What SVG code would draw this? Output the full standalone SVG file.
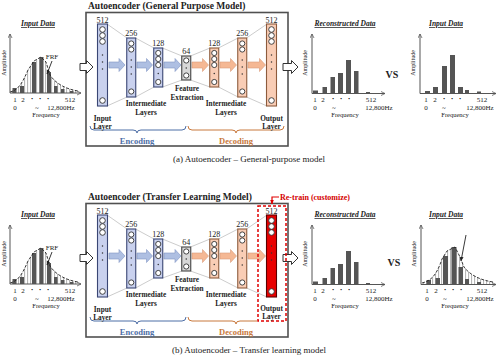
<svg xmlns="http://www.w3.org/2000/svg" width="500" height="363" viewBox="0 0 500 363">
<defs>
<style>
text{font-family:"Liberation Serif","Times New Roman",serif;fill:#222}
.title{font-size:9.5px;font-weight:bold}
.cap{font-size:9px;text-anchor:middle}
.num{font-size:8px;text-anchor:middle}
.lbl{font-size:7.3px;font-weight:bold;text-anchor:middle}
.ct{font-size:7.5px;font-weight:bold;font-style:italic;text-decoration:underline;text-anchor:middle}
.tick{font-size:7px;text-anchor:middle}
.td{font-size:8px;font-weight:bold;text-anchor:middle}
.freq{font-size:6.5px;text-anchor:middle}
.amp{font-size:6px;text-anchor:middle}
.enct{font-size:8.5px;font-weight:bold;fill:#4d6ea6;text-anchor:middle}
.dect{font-size:8.5px;font-weight:bold;fill:#c8783c;text-anchor:middle}
.vs{font-size:10px;font-weight:bold;text-anchor:middle}
.rt{font-size:8px;font-weight:bold;fill:#d40000}
.box{fill:#fff;stroke:#505050;stroke-width:1.6}
.enc{fill:#c9d1ee;stroke:#3a4674;stroke-width:1.1}
.dec{fill:#f9cdb5;stroke:#8d5b3c;stroke-width:1.1}
.fe{fill:#d8d8d8;stroke:#444;stroke-width:1.1}
.red{fill:#e80000;stroke:#5a0000;stroke-width:1.1}
.cir{fill:#fff;stroke:#333;stroke-width:0.9}
.dot{fill:#333}
.barr{fill:#aebfe2;stroke:#8196c4;stroke-width:0.6}
.darr{fill:#f5b894;stroke:#d99a78;stroke-width:0.6}
.big{fill:#fff;stroke:#333;stroke-width:1}
.axis{stroke:#555;stroke-width:1;fill:none}
.bar{fill:#555}
.funnel{stroke:#aaa;stroke-width:0.6;fill:none}
.frf{stroke:#222;stroke-width:0.9;fill:none;stroke-dasharray:3 1.5}
.ptr{stroke:#222;stroke-width:0.9;fill:none}
.bre{stroke:#4d6ea6;stroke-width:1;fill:none}
.brd{stroke:#c8783c;stroke-width:1;fill:none}
.rdash{fill:none;stroke:#e00000;stroke-width:1.5;stroke-dasharray:3 2}
.rline{fill:none;stroke:#e00000;stroke-width:1.2}
</style>
<marker id="ah" viewBox="0 0 10 10" refX="9" refY="5" markerWidth="5" markerHeight="5" orient="auto"><path d="M1,1 L9,5 L1,9" fill="none" stroke="#555" stroke-width="1.5"/></marker>
<marker id="ahk" viewBox="0 0 10 10" refX="9" refY="5" markerWidth="5" markerHeight="5" orient="auto"><path d="M0,1 L10,5 L0,9 Z" fill="#222"/></marker>
<marker id="ahr" viewBox="0 0 10 10" refX="9" refY="5" markerWidth="4" markerHeight="4" orient="auto"><path d="M0,1 L10,5 L0,9 Z" fill="#e00000"/></marker>
<pattern id="hatch" patternUnits="userSpaceOnUse" width="3" height="4"><rect width="3" height="4" fill="#fff"/><line x1="0.6" y1="0" x2="0.6" y2="4" stroke="#999" stroke-width="0.8"/></pattern>
</defs>
<rect width="500" height="363" fill="#fff"/>

<!-- ================= PANEL A ================= -->
<g id="panel-a">
  <g id="a-box">
    <rect class="box" x="86" y="12.5" width="202" height="133.5"/>
    <text class="title" x="88" y="8.5">Autoencoder (General Purpose Model)</text>
  </g>
  <g id="a-connectors">
    <path class="funnel" d="M107,24 L127,38 M135.5,38 L154,48 M162.5,48 L182,56 M190.5,56 L210,48 M218.5,48 L238,38 M246.5,38 L267,24 M107,106 L127,97 M135.5,97 L154,87 M162.5,87 L182,80 M190.5,80 L210,87 M218.5,87 L238,97 M246.5,97 L267,106"/>
    <path class="barr" d="M109,62 H119 V58.5 L125,65 L119,71.5 V68 H109 Z"/>
    <path class="barr" d="M137,62 H146.5 V58.5 L152.5,65 L146.5,71.5 V68 H137 Z"/>
    <path class="barr" d="M164,62 H175 V58.5 L181,65 L175,71.5 V68 H164 Z"/>
    <path class="darr" d="M192,62 H202.5 V58.5 L208.5,65 L202.5,71.5 V68 H192 Z"/>
    <path class="darr" d="M220,62 H230.5 V58.5 L236.5,65 L230.5,71.5 V68 H220 Z"/>
    <path class="darr" d="M248,62 H259.5 V58.5 L265.5,65 L259.5,71.5 V68 H248 Z"/>
    <path class="big" d="M80,63.5 H86.5 V60.5 L93,67 L86.5,73.5 V70.5 H80 Z"/>
    <path class="big" d="M283,63.5 H291.5 V60.5 L298,67 L291.5,73.5 V70.5 H283 Z"/>
    <path class="bre" d="M90,126 Q90,130 94,130 L133,130 Q137,130 137,133 Q137,130 141,130 L182,130 Q186,130 186,126"/>
    <path class="brd" d="M188,126 Q188,130 192,130 L232,130 Q236,130 236,133 Q236,130 240,130 L280,130 Q284,130 284,126"/>
  </g>
  <g id="a-input-layer">
    <text class="num" x="102.5" y="22.5">512</text>
    <rect class="enc" x="97.5" y="24" width="10" height="82"/>
    <circle class="cir" cx="102.5" cy="29.5" r="2.8"/><circle class="cir" cx="102.5" cy="35.5" r="2.8"/><circle class="cir" cx="102.5" cy="41.5" r="2.8"/><circle class="cir" cx="102.5" cy="100.5" r="2.8"/>
    <circle class="dot" cx="102.5" cy="55" r="0.75"/><circle class="dot" cx="102.5" cy="62" r="0.75"/><circle class="dot" cx="102.5" cy="69" r="0.75"/>
    <text class="lbl" x="102.5" y="120.5">Input</text><text class="lbl" x="102.5" y="128.5">Layer</text>
  </g>
  <g id="a-enc-256">
    <text class="num" x="131.25" y="36">256</text>
    <rect class="enc" x="126.75" y="38" width="9" height="59"/>
    <circle class="cir" cx="131.25" cy="43.5" r="2.6"/><circle class="cir" cx="131.25" cy="49.5" r="2.6"/><circle class="cir" cx="131.25" cy="91.5" r="2.6"/>
    <circle class="dot" cx="131.25" cy="60" r="0.75"/><circle class="dot" cx="131.25" cy="67" r="0.75"/><circle class="dot" cx="131.25" cy="74" r="0.75"/>
  </g>
  <g id="a-enc-128">
    <text class="num" x="158.25" y="46">128</text>
    <rect class="enc" x="153.75" y="48" width="9" height="39"/>
    <circle class="cir" cx="158.25" cy="53" r="2.6"/><circle class="cir" cx="158.25" cy="59" r="2.6"/><circle class="cir" cx="158.25" cy="65" r="2.6"/><circle class="cir" cx="158.25" cy="82" r="2.6"/>
    <circle class="dot" cx="158.25" cy="73.5" r="0.75"/>
    <text class="lbl" x="146" y="106">Intermediate</text><text class="lbl" x="146" y="114.5">Layers</text>
  </g>
  <g id="a-feature">
    <text class="num" x="186.25" y="54">64</text>
    <rect class="fe" x="181.75" y="56" width="9" height="24"/>
    <circle class="cir" cx="186.25" cy="60.5" r="2.6"/><circle class="cir" cx="186.25" cy="75.5" r="2.6"/>
    <circle class="dot" cx="186.25" cy="68" r="0.75"/>
    <text class="lbl" x="187" y="91">Feature</text><text class="lbl" x="187" y="99.5">Extraction</text>
  </g>
  <g id="a-dec-128">
    <text class="num" x="214.25" y="46">128</text>
    <rect class="dec" x="209.75" y="48" width="9" height="39"/>
    <circle class="cir" cx="214.25" cy="53" r="2.6"/><circle class="cir" cx="214.25" cy="59" r="2.6"/><circle class="cir" cx="214.25" cy="65" r="2.6"/><circle class="cir" cx="214.25" cy="82" r="2.6"/>
    <circle class="dot" cx="214.25" cy="73.5" r="0.75"/>
    <text class="lbl" x="226" y="106">Intermediate</text><text class="lbl" x="226" y="114.5">Layers</text>
  </g>
  <g id="a-dec-256">
    <text class="num" x="242.25" y="36">256</text>
    <rect class="dec" x="237.75" y="38" width="9" height="59"/>
    <circle class="cir" cx="242.25" cy="43.5" r="2.6"/><circle class="cir" cx="242.25" cy="49.5" r="2.6"/><circle class="cir" cx="242.25" cy="91.5" r="2.6"/>
    <circle class="dot" cx="242.25" cy="60" r="0.75"/><circle class="dot" cx="242.25" cy="67" r="0.75"/><circle class="dot" cx="242.25" cy="74" r="0.75"/>
  </g>
  <g id="a-output-layer">
    <text class="num" x="271.5" y="22.5">512</text>
    <rect class="dec" x="266.5" y="24" width="10" height="82"/>
    <circle class="cir" cx="271.5" cy="29.5" r="2.8"/><circle class="cir" cx="271.5" cy="35.5" r="2.8"/><circle class="cir" cx="271.5" cy="41.5" r="2.8"/><circle class="cir" cx="271.5" cy="100.5" r="2.8"/>
    <circle class="dot" cx="271.5" cy="55" r="0.75"/><circle class="dot" cx="271.5" cy="62" r="0.75"/><circle class="dot" cx="271.5" cy="69" r="0.75"/>
    <text class="lbl" x="271.5" y="120.5">Output</text><text class="lbl" x="271.5" y="128.5">Layer</text>
  </g>
  <text class="enct" x="137" y="144">Encoding</text>
  <text class="dect" x="236" y="144">Decoding</text>

  <g id="a-chart-input">
    <text class="ct" x="38" y="26">Input Data</text>
    <path d="M10,93 L10,92 C18,90 22,84 28,70 L34,61 L41,57 L46,62 L50,75 C56,84 66,89 78,91 L78,93 Z" fill="url(#hatch)"/>
    <rect class="bar" x="12.5" y="88" width="4" height="5"/><rect class="bar" x="20" y="86" width="4" height="7"/><rect class="bar" x="32" y="62" width="4" height="31"/><rect class="bar" x="39.5" y="57" width="4" height="36"/><rect class="bar" x="47" y="72" width="4" height="21"/><rect class="bar" x="54" y="86" width="3.5" height="7"/><rect class="bar" x="61" y="89" width="3.5" height="4"/><rect class="bar" x="70" y="91" width="3.5" height="2"/>
    <path class="frf" d="M10,92 C18,90 22,84 28,70 L34,61 L41,57 L46,62 L50,75 C56,84 66,89 78,91"/>
    <path class="axis" d="M10,93 V34" marker-end="url(#ah)"/><path class="axis" d="M10,93 H81" marker-end="url(#ah)"/>
    <text class="amp" transform="translate(6,63) rotate(-90)">Amplitude</text>
    <text class="tick" x="52" y="59">FRF</text>
    <path class="ptr" d="M52,61 L47,74" marker-end="url(#ahk)"/>
    <text class="tick" x="15" y="102">1</text><text class="tick" x="23" y="102">2</text><text class="td" x="32" y="101">·</text><text class="td" x="40" y="101">·</text><text class="td" x="48" y="101">·</text><text class="tick" x="70" y="102">512</text>
    <text class="tick" x="15" y="109.5">0</text><text class="tick" x="37" y="109.5">~</text><text class="tick" x="61" y="109.5">12,800Hz</text>
    <text class="freq" x="46" y="117">Frequency</text>
  </g>
  <g id="a-chart-recon">
    <text class="ct" x="345" y="26">Reconstructed Data</text>
    <rect class="bar" x="313" y="90.5" width="5" height="2.5"/><rect class="bar" x="322.5" y="87" width="4.5" height="6"/><rect class="bar" x="330.5" y="77" width="4.5" height="16"/><rect class="bar" x="338" y="73" width="5" height="20"/><rect class="bar" x="346" y="60" width="5" height="33"/><rect class="bar" x="354" y="71" width="4.5" height="22"/><rect class="bar" x="366" y="92" width="4" height="1"/>
    <path class="axis" d="M312,93.5 V34" marker-end="url(#ah)"/><path class="axis" d="M312,93.5 H385" marker-end="url(#ah)"/>
    <text class="amp" transform="translate(307,63) rotate(-90)">Amplitude</text>
    <text class="tick" x="315" y="102">1</text><text class="tick" x="323" y="102">2</text><text class="td" x="333" y="101">·</text><text class="td" x="341" y="101">·</text><text class="td" x="349" y="101">·</text><text class="tick" x="371" y="102">512</text>
    <text class="tick" x="315" y="109.5">0</text><text class="tick" x="334" y="109.5">~</text><text class="tick" x="379" y="109.5">12,800Hz</text>
    <text class="freq" x="345" y="117">Frequency</text>
  </g>
  <text class="vs" x="392" y="78">VS</text>
  <g id="a-chart-input2">
    <text class="ct" x="446" y="26">Input Data</text>
    <rect class="bar" x="425" y="91" width="5" height="2"/><rect class="bar" x="433" y="87" width="5" height="6"/><rect class="bar" x="442" y="66" width="5" height="27"/><rect class="bar" x="450" y="55" width="5" height="38"/><rect class="bar" x="458" y="87" width="5" height="6"/><rect class="bar" x="465" y="90" width="4" height="3"/><rect class="bar" x="477" y="91.5" width="4" height="1.5"/>
    <path class="axis" d="M420,93.5 V34" marker-end="url(#ah)"/><path class="axis" d="M420,93.5 H496" marker-end="url(#ah)"/>
    <text class="amp" transform="translate(415,63) rotate(-90)">Amplitude</text>
    <text class="tick" x="426" y="102">1</text><text class="tick" x="435" y="102">2</text><text class="td" x="444" y="101">·</text><text class="td" x="452" y="101">·</text><text class="td" x="460" y="101">·</text><text class="tick" x="482" y="102">512</text>
    <text class="tick" x="426" y="109.5">0</text><text class="tick" x="444" y="109.5">~</text><text class="tick" x="480" y="109.5">12,800Hz</text>
    <text class="freq" x="455" y="117">Frequency</text>
  </g>
  <text class="cap" x="249" y="162">(a) Autoencoder – General-purpose model</text>
</g>

<!-- ================= PANEL B ================= -->
<g id="panel-b" transform="translate(0,191)">
  <g id="b-box">
    <rect class="box" x="86" y="12.5" width="202" height="133.5"/>
    <text class="title" x="88" y="8.5">Autoencoder (Transfer Learning Model)</text>
  </g>
  <g id="b-connectors">
    <path class="funnel" d="M107,24 L127,38 M135.5,38 L154,48 M162.5,48 L182,56 M190.5,56 L210,48 M218.5,48 L238,38 M246.5,38 L267,24 M107,106 L127,97 M135.5,97 L154,87 M162.5,87 L182,80 M190.5,80 L210,87 M218.5,87 L238,97 M246.5,97 L267,106"/>
    <path class="barr" d="M109,62 H119 V58.5 L125,65 L119,71.5 V68 H109 Z"/>
    <path class="barr" d="M137,62 H146.5 V58.5 L152.5,65 L146.5,71.5 V68 H137 Z"/>
    <path class="barr" d="M164,62 H175 V58.5 L181,65 L175,71.5 V68 H164 Z"/>
    <path class="darr" d="M192,62 H202.5 V58.5 L208.5,65 L202.5,71.5 V68 H192 Z"/>
    <path class="darr" d="M220,62 H230.5 V58.5 L236.5,65 L230.5,71.5 V68 H220 Z"/>
    <path class="darr" d="M248,62 H259.5 V58.5 L265.5,65 L259.5,71.5 V68 H248 Z"/>
    <path class="big" d="M80,63.5 H86.5 V60.5 L93,67 L86.5,73.5 V70.5 H80 Z"/>
    <path class="big" d="M283,63.5 H291.5 V60.5 L298,67 L291.5,73.5 V70.5 H283 Z"/>
    <path class="bre" d="M90,126 Q90,130 94,130 L133,130 Q137,130 137,133 Q137,130 141,130 L182,130 Q186,130 186,126"/>
    <path class="brd" d="M188,126 Q188,130 192,130 L232,130 Q236,130 236,133 Q236,130 240,130 L257,130"/>
    <path class="rline" d="M279,6 H272 V13" marker-end="url(#ahr)"/>
  </g>
  <g id="b-input-layer">
    <text class="num" x="102.5" y="22.5">512</text>
    <rect class="enc" x="97.5" y="24" width="10" height="82"/>
    <circle class="cir" cx="102.5" cy="29.5" r="2.8"/><circle class="cir" cx="102.5" cy="35.5" r="2.8"/><circle class="cir" cx="102.5" cy="41.5" r="2.8"/><circle class="cir" cx="102.5" cy="100.5" r="2.8"/>
    <circle class="dot" cx="102.5" cy="55" r="0.75"/><circle class="dot" cx="102.5" cy="62" r="0.75"/><circle class="dot" cx="102.5" cy="69" r="0.75"/>
    <text class="lbl" x="102.5" y="120.5">Input</text><text class="lbl" x="102.5" y="128.5">Layer</text>
  </g>
  <g id="b-enc-256">
    <text class="num" x="131.25" y="36">256</text>
    <rect class="enc" x="126.75" y="38" width="9" height="59"/>
    <circle class="cir" cx="131.25" cy="43.5" r="2.6"/><circle class="cir" cx="131.25" cy="49.5" r="2.6"/><circle class="cir" cx="131.25" cy="91.5" r="2.6"/>
    <circle class="dot" cx="131.25" cy="60" r="0.75"/><circle class="dot" cx="131.25" cy="67" r="0.75"/><circle class="dot" cx="131.25" cy="74" r="0.75"/>
  </g>
  <g id="b-enc-128">
    <text class="num" x="158.25" y="46">128</text>
    <rect class="enc" x="153.75" y="48" width="9" height="39"/>
    <circle class="cir" cx="158.25" cy="53" r="2.6"/><circle class="cir" cx="158.25" cy="59" r="2.6"/><circle class="cir" cx="158.25" cy="65" r="2.6"/><circle class="cir" cx="158.25" cy="82" r="2.6"/>
    <circle class="dot" cx="158.25" cy="73.5" r="0.75"/>
    <text class="lbl" x="146" y="106">Intermediate</text><text class="lbl" x="146" y="114.5">Layers</text>
  </g>
  <g id="b-feature">
    <text class="num" x="186.25" y="54">64</text>
    <rect class="fe" x="181.75" y="56" width="9" height="24"/>
    <circle class="cir" cx="186.25" cy="60.5" r="2.6"/><circle class="cir" cx="186.25" cy="75.5" r="2.6"/>
    <circle class="dot" cx="186.25" cy="68" r="0.75"/>
    <text class="lbl" x="187" y="91">Feature</text><text class="lbl" x="187" y="99.5">Extraction</text>
  </g>
  <g id="b-dec-128">
    <text class="num" x="214.25" y="46">128</text>
    <rect class="dec" x="209.75" y="48" width="9" height="39"/>
    <circle class="cir" cx="214.25" cy="53" r="2.6"/><circle class="cir" cx="214.25" cy="59" r="2.6"/><circle class="cir" cx="214.25" cy="65" r="2.6"/><circle class="cir" cx="214.25" cy="82" r="2.6"/>
    <circle class="dot" cx="214.25" cy="73.5" r="0.75"/>
    <text class="lbl" x="226" y="106">Intermediate</text><text class="lbl" x="226" y="114.5">Layers</text>
  </g>
  <g id="b-dec-256">
    <text class="num" x="242.25" y="36">256</text>
    <rect class="dec" x="237.75" y="38" width="9" height="59"/>
    <circle class="cir" cx="242.25" cy="43.5" r="2.6"/><circle class="cir" cx="242.25" cy="49.5" r="2.6"/><circle class="cir" cx="242.25" cy="91.5" r="2.6"/>
    <circle class="dot" cx="242.25" cy="60" r="0.75"/><circle class="dot" cx="242.25" cy="67" r="0.75"/><circle class="dot" cx="242.25" cy="74" r="0.75"/>
  </g>
  <g id="b-output-layer">
    <rect class="rdash" x="258" y="15" width="28" height="115"/>
    <text class="num" x="271.5" y="22.5">512</text>
    <rect class="red" x="266.5" y="24" width="10" height="82"/>
    <circle class="cir" cx="271.5" cy="29.5" r="2.8"/><circle class="cir" cx="271.5" cy="35.5" r="2.8"/><circle class="cir" cx="271.5" cy="41.5" r="2.8"/><circle class="cir" cx="271.5" cy="100.5" r="2.8"/>
    <circle class="dot" cx="271.5" cy="55" r="0.75"/><circle class="dot" cx="271.5" cy="62" r="0.75"/><circle class="dot" cx="271.5" cy="69" r="0.75"/>
    <text class="lbl" x="271.5" y="119.5">Output</text><text class="lbl" x="271.5" y="127.5">Layer</text>
    <text class="rt" x="280" y="8.5">Re-train (customize)</text>
  </g>
  <text class="enct" x="137" y="144">Encoding</text>
  <text class="dect" x="236" y="144">Decoding</text>

  <g id="b-chart-input">
    <text class="ct" x="38" y="26">Input Data</text>
    <path d="M10,93 L10,92 C18,90 22,84 28,70 L34,61 L41,57 L46,62 L50,75 C56,84 66,89 78,91 L78,93 Z" fill="url(#hatch)"/>
    <rect class="bar" x="12.5" y="88" width="4" height="5"/><rect class="bar" x="20" y="86" width="4" height="7"/><rect class="bar" x="32" y="62" width="4" height="31"/><rect class="bar" x="39.5" y="57" width="4" height="36"/><rect class="bar" x="47" y="72" width="4" height="21"/><rect class="bar" x="54" y="86" width="3.5" height="7"/><rect class="bar" x="61" y="89" width="3.5" height="4"/><rect class="bar" x="70" y="91" width="3.5" height="2"/>
    <path class="frf" d="M10,92 C18,90 22,84 28,70 L34,61 L41,57 L46,62 L50,75 C56,84 66,89 78,91"/>
    <path class="axis" d="M10,93 V34" marker-end="url(#ah)"/><path class="axis" d="M10,93 H81" marker-end="url(#ah)"/>
    <text class="amp" transform="translate(6,63) rotate(-90)">Amplitude</text>
    <text class="tick" x="52" y="59">FRF</text>
    <path class="ptr" d="M52,61 L47,74" marker-end="url(#ahk)"/>
    <text class="tick" x="15" y="102">1</text><text class="tick" x="23" y="102">2</text><text class="td" x="32" y="101">·</text><text class="td" x="40" y="101">·</text><text class="td" x="48" y="101">·</text><text class="tick" x="70" y="102">512</text>
    <text class="tick" x="15" y="109.5">0</text><text class="tick" x="37" y="109.5">~</text><text class="tick" x="61" y="109.5">12,800Hz</text>
    <text class="freq" x="46" y="117">Frequency</text>
  </g>
  <g id="b-chart-recon">
    <text class="ct" x="345" y="26">Reconstructed Data</text>
    <rect class="bar" x="313" y="90.5" width="5" height="2.5"/><rect class="bar" x="322.5" y="87" width="4.5" height="6"/><rect class="bar" x="330.5" y="77" width="4.5" height="16"/><rect class="bar" x="338" y="73" width="5" height="20"/><rect class="bar" x="346" y="60" width="5" height="33"/><rect class="bar" x="354" y="71" width="4.5" height="22"/><rect class="bar" x="366" y="92" width="4" height="1"/>
    <path class="axis" d="M312,93.5 V34" marker-end="url(#ah)"/><path class="axis" d="M312,93.5 H385" marker-end="url(#ah)"/>
    <text class="amp" transform="translate(307,63) rotate(-90)">Amplitude</text>
    <text class="tick" x="315" y="102">1</text><text class="tick" x="323" y="102">2</text><text class="td" x="333" y="101">·</text><text class="td" x="341" y="101">·</text><text class="td" x="349" y="101">·</text><text class="tick" x="371" y="102">512</text>
    <text class="tick" x="315" y="109.5">0</text><text class="tick" x="334" y="109.5">~</text><text class="tick" x="379" y="109.5">12,800Hz</text>
    <text class="freq" x="345" y="117">Frequency</text>
  </g>
  <text class="vs" x="394" y="75">VS</text>
  <g id="b-chart-input2">
    <text class="ct" x="446" y="26">Input Data</text>
    <path d="M422,93 L422,92 C430,90 436,86 442,68 L447,60 L455,56 L460,66 L464,76 C470,84 480,89 493,91 L493,93 Z" fill="url(#hatch)"/>
    <rect class="bar" x="426.5" y="89" width="4.5" height="4"/><rect class="bar" x="435.5" y="87" width="4.5" height="6"/><rect class="bar" x="443" y="65" width="5" height="28"/><rect class="bar" x="451.5" y="56" width="5" height="37"/><rect class="bar" x="458.5" y="76" width="4.5" height="17"/><rect class="bar" x="465" y="88" width="4" height="5"/><rect class="bar" x="477" y="91" width="4" height="2"/>
    <path class="frf" d="M422,92 C430,90 436,86 442,68 L447,60 L455,56 L460,66 L464,76 C470,84 480,89 493,91"/>
    <path class="axis" d="M421,93.5 V34" marker-end="url(#ah)"/><path class="axis" d="M421,93.5 H496" marker-end="url(#ah)"/>
    <text class="amp" transform="translate(416,63) rotate(-90)">Amplitude</text>
    <path class="ptr" d="M466,44 L461,70" marker-end="url(#ahk)"/>
    <text class="tick" x="427" y="102">1</text><text class="tick" x="436" y="102">2</text><text class="td" x="445" y="101">·</text><text class="td" x="453" y="101">·</text><text class="td" x="461" y="101">·</text><text class="tick" x="482" y="102">512</text>
    <text class="tick" x="427" y="109.5">0</text><text class="tick" x="445" y="109.5">~</text><text class="tick" x="480" y="109.5">12,800Hz</text>
    <text class="freq" x="455" y="117">Frequency</text>
  </g>
  <text class="cap" x="249" y="162">(b) Autoencoder – Transfer learning model</text>
</g>
</svg>
